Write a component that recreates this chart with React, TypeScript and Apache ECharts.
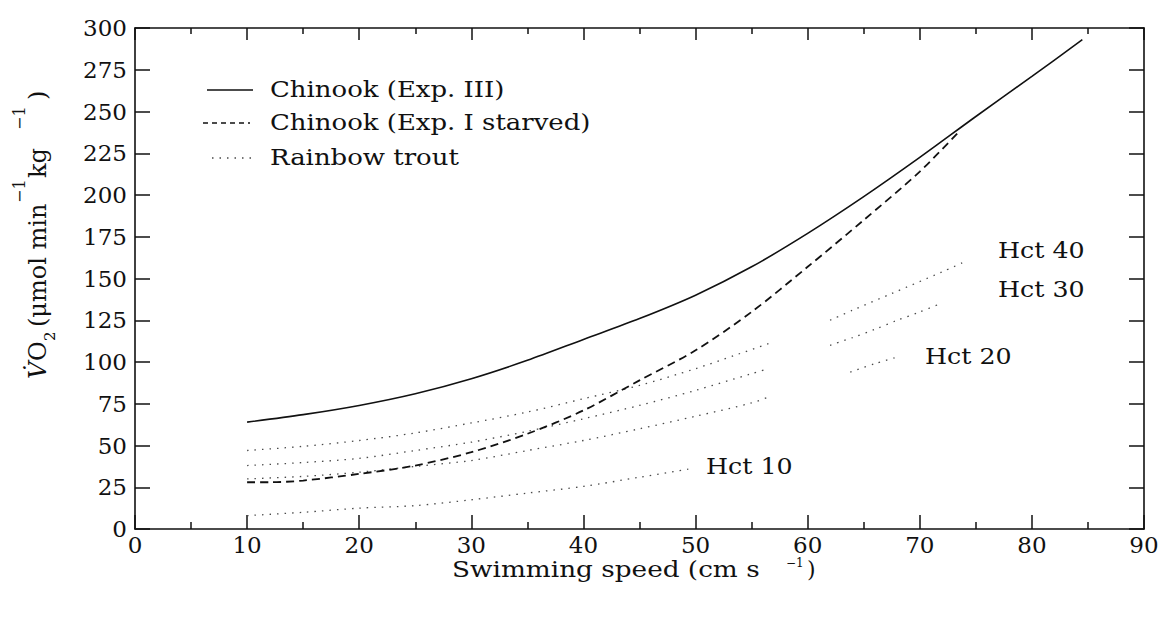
import React, { useEffect, useRef } from "react";
import * as echarts from "echarts";

// Oxygen uptake vs. swimming speed
const chinookIIIX = [10, 15, 20, 25, 30, 35, 40, 45, 50, 55, 60, 65, 70, 75, 80, 84.5];
const chinookIIIY = [64, 68.5, 74, 81, 90, 101, 113.5, 126, 140, 157, 177, 199, 222.5, 247, 271, 293];

const chinookStarvedX = [10, 12, 15, 20, 25, 30, 35, 40, 45, 50, 55, 60, 65, 70, 73.5];
const chinookStarvedY = [28, 28, 29, 33, 38, 46, 57, 71, 89, 107, 130, 157, 185, 214, 238];

// Rainbow trout at four haematocrits, each drawn in two runs
const hct40LowX = [10, 15, 20, 25, 30, 35, 40, 45, 50, 53.5, 56.5];
const hct40LowY = [47, 49.5, 53, 57.5, 63.5, 70, 78, 86, 96, 104, 111];
const hct40HighX = [62, 64, 67.5, 72, 74];
const hct40HighY = [125, 131, 141, 154, 160];

const hct30LowX = [10, 15, 20, 25, 30, 35, 40, 45, 50, 55, 56.5];
const hct30LowY = [38, 39.8, 42.3, 47, 52, 58.5, 66, 74, 83, 93, 96];
const hct30HighX = [62, 64, 66, 68, 70, 72];
const hct30HighY = [110, 114.6, 119.6, 125, 130, 135.4];

const hct20LowX = [10, 15, 20, 25, 30, 35, 40, 45, 50, 55, 56.7];
const hct20LowY = [30, 31.5, 34, 37.5, 41, 47, 53, 60, 67.5, 75.5, 79.5];
const hct20HighX = [63.8, 66, 68];
const hct20HighY = [94, 99, 103];

const hct10X = [10, 15, 20, 25, 30, 35, 40, 45, 49.5];
const hct10Y = [8, 10, 12.5, 14, 17.5, 21.5, 25.5, 31, 36];

const legendNames = ["Chinook (Exp. III)", "Chinook (Exp. I starved)", "Rainbow trout"];
const hctLabels = ["Hct 40", "Hct 30", "Hct 20", "Hct 10"];

const INK = "#111";
const SERIF = '"DejaVu Serif", "Liberation Serif", serif';

const pairs = (xs: number[], ys: number[]) => xs.map((x, i) => [x, ys[i]]);

const trout = (name: string, xs: number[], ys: number[]) => ({
  name,
  type: "line",
  data: pairs(xs, ys),
  symbol: "none",
  smooth: 0.3,
  lineStyle: { color: "#4a4a4a", width: 1.3, type: [1.5, 6] },
  z: 2,
});

const txt = (
  text: string,
  x: number,
  y: number,
  size: number,
  extra: Record<string, any> = {},
  styleExtra: Record<string, any> = {}
) => ({
  type: "text",
  x,
  y,
  ...extra,
  style: {
    text,
    fill: INK,
    fontFamily: SERIF,
    fontSize: size,
    align: "left",
    verticalAlign: "middle",
    ...styleExtra,
  },
});

export default function App() {
  const ref = useRef<HTMLDivElement>(null);

  useEffect(() => {
    if (!ref.current) return;
    const chart = echarts.init(ref.current, undefined, { renderer: "svg" });

    const axisLine = { show: true, onZero: false, lineStyle: { color: INK, width: 1.6 } };
    const tickStyle = { color: INK, width: 1.5 };

    chart.setOption({
      animation: false,
      backgroundColor: "#fff",
      grid: { left: 135, right: 19, top: 28, bottom: 93, containLabel: false, outerBoundsMode: "none" },
      xAxis: [
        {
          type: "value",
          min: 0,
          max: 90,
          interval: 10,
          position: "bottom",
          axisLine,
          axisTick: { show: true, inside: true, length: 14, lineStyle: tickStyle },
          minorTick: { show: true, splitNumber: 2, length: 7, lineStyle: tickStyle },
          axisLabel: { color: INK, fontFamily: SERIF, fontSize: 23, lineHeight: 16, margin: 8 },
          splitLine: { show: false },
          minorSplitLine: { show: false },
        },
        {
          type: "value",
          min: 0,
          max: 90,
          interval: 10,
          position: "top",
          axisLine,
          axisTick: { show: true, inside: true, length: 12, lineStyle: tickStyle },
          minorTick: { show: true, splitNumber: 2, length: 6, lineStyle: tickStyle },
          axisLabel: { show: false },
          splitLine: { show: false },
          minorSplitLine: { show: false },
        },
      ],
      yAxis: [
        {
          type: "value",
          min: 0,
          max: 300,
          interval: 25,
          position: "left",
          axisLine,
          axisTick: { show: true, inside: true, length: 15, lineStyle: tickStyle },
          axisLabel: { color: INK, fontFamily: SERIF, fontSize: 23, margin: 8 },
          splitLine: { show: false },
        },
        {
          type: "value",
          min: 0,
          max: 300,
          interval: 25,
          position: "right",
          axisLine,
          axisTick: { show: true, inside: true, length: 15, lineStyle: tickStyle },
          axisLabel: { show: false },
          splitLine: { show: false },
        },
      ],
      series: [
        {
          name: legendNames[0],
          type: "line",
          data: pairs(chinookIIIX, chinookIIIY),
          symbol: "none",
          smooth: 0.3,
          lineStyle: { color: INK, width: 1.6, type: "solid" },
          z: 4,
        },
        {
          name: legendNames[1],
          type: "line",
          data: pairs(chinookStarvedX, chinookStarvedY),
          symbol: "none",
          smooth: 0.3,
          lineStyle: { color: INK, width: 1.8, type: [8, 5] },
          z: 3,
        },
        trout(hctLabels[0], hct40LowX, hct40LowY),
        trout(hctLabels[0], hct40HighX, hct40HighY),
        trout(hctLabels[1], hct30LowX, hct30LowY),
        trout(hctLabels[1], hct30HighX, hct30HighY),
        trout(hctLabels[2], hct20LowX, hct20LowY),
        trout(hctLabels[2], hct20HighX, hct20HighY),
        trout(hctLabels[3], hct10X, hct10Y),
      ],
      graphic: [
        // legend keys
        { type: "line", shape: { x1: 207, y1: 90, x2: 253, y2: 90 }, style: { stroke: INK, lineWidth: 1.5 } },
        { type: "line", shape: { x1: 203, y1: 123, x2: 250, y2: 123 }, style: { stroke: INK, lineWidth: 1.4, lineDash: [5, 4] } },
        { type: "line", shape: { x1: 212, y1: 158, x2: 252, y2: 158 }, style: { stroke: "#4a4a4a", lineWidth: 1.3, lineDash: [1.5, 6] } },
        txt(legendNames[0], 270, 90, 22, { scaleX: 1.18 }),
        txt(legendNames[1], 270, 123, 22, { scaleX: 1.18 }),
        txt(legendNames[2], 270, 158, 22, { scaleX: 1.18 }),

        // curve labels
        txt(hctLabels[0], 998, 250, 23, { scaleX: 1.1 }),
        txt(hctLabels[1], 998, 289, 23, { scaleX: 1.1 }),
        txt(hctLabels[2], 925, 356, 23, { scaleX: 1.1 }),
        txt(hctLabels[3], 706, 466, 23, { scaleX: 1.1 }),

        // x-axis title
        txt("Swimming speed (cm s", 452, 569, 22, { scaleX: 1.195 }, { lineHeight: 20 }),
        txt("\u22121", 786, 563, 12, {}, { lineHeight: 10 }),
        txt(")", 807, 569, 22, {}, { lineHeight: 20 }),

        // y-axis title, reading bottom to top
        {
          type: "group",
          x: 0,
          y: 0,
          rotation: Math.PI / 2,
          children: [
            txt("V\u0307", -379, 37.5, 24, {}, { fontStyle: "italic" }),
            txt("O", -361, 37.5, 24),
            txt("2", -341, 50, 15),
            txt("(\u03bcmol min", -327, 37.5, 24),
            txt("\u22121", -203, 19, 16),
            txt("kg", -178, 37.5, 24),
            txt("\u22121", -130, 19, 16),
            txt(")", -100, 37.5, 24),
          ],
        },
      ],
    });

    return () => chart.dispose();
  }, []);

  return (
    <div
      ref={ref}
      style={{ position: "absolute", left: 0, top: 0, width: 1163, height: 622, background: "#fff" }}
    />
  );
}
